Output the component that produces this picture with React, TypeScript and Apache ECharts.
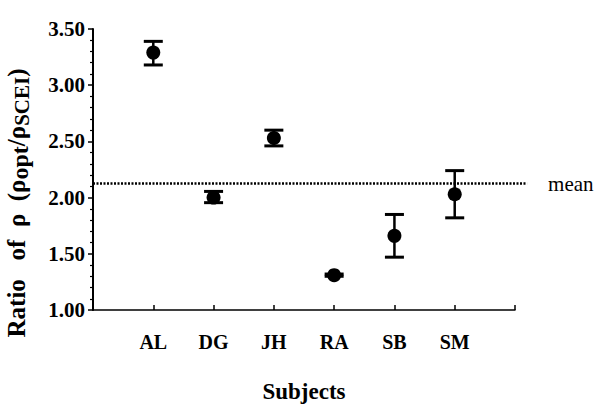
import React, { useEffect, useRef } from "react";
import * as echarts from "echarts";

const subjects = ["AL", "DG", "JH", "RA", "SB", "SM"];
const ratioMean = [3.29, 2.0, 2.53, 1.31, 1.66, 2.03];
const ratioLow = [3.18, 1.955, 2.46, 1.3, 1.47, 1.82];
const ratioHigh = [3.39, 2.055, 2.6, 1.32, 1.85, 2.24];
const overallMean = 2.125;
const yTicks = [1.0, 1.5, 2.0, 2.5, 3.0, 3.5];

const FONT = "'Liberation Serif', 'Times New Roman', serif";

export default function App() {
  const ref = useRef<HTMLDivElement>(null);
  useEffect(() => {
    if (!ref.current) return;
    const chart = echarts.init(ref.current, undefined, { renderer: "svg" });
    const rows = subjects.map((s, i) => [i + 1, ratioMean[i], ratioLow[i], ratioHigh[i]]);
    chart.setOption({
      animation: false,
      backgroundColor: "#ffffff",
      grid: { left: 93, right: 85, top: 29, bottom: 98, containLabel: false, outerBoundsMode: "none" },
      xAxis: {
        type: "value",
        min: 0,
        max: subjects.length + 1,
        interval: 1,
        splitLine: { show: false },
        axisLine: { lineStyle: { color: "#000", width: 1.5 } },
        axisTick: { inside: true, length: 5, lineStyle: { color: "#000", width: 1.5 } },
        axisLabel: {
          margin: 22,
          color: "#000",
          fontFamily: FONT,
          fontWeight: "bold",
          fontSize: 20,
          formatter: (v: number) => subjects[v - 1] ?? "",
        },
        name: "Subjects",
        nameLocation: "middle",
        nameGap: 70,
        nameTextStyle: { color: "#000", fontFamily: FONT, fontWeight: "bold", fontSize: 23 },
      },
      yAxis: {
        type: "value",
        min: yTicks[0],
        max: yTicks[yTicks.length - 1],
        interval: 0.5,
        splitLine: { show: false },
        axisLine: { show: true, lineStyle: { color: "#000", width: 2 } },
        axisTick: { show: true, length: 5, lineStyle: { color: "#000", width: 1.5 } },
        minorTick: { show: true, splitNumber: 5, length: 3, lineStyle: { color: "#000", width: 1.2 } },
        axisLabel: {
          margin: 8,
          color: "#000",
          fontFamily: FONT,
          fontWeight: "bold",
          fontSize: 21,
          formatter: (v: number) => v.toFixed(2),
        },
      },
      series: [
        {
          type: "custom",
          data: rows,
          z: 2,
          renderItem: (_p: any, api: any) => {
            const x = api.value(0);
            const lo = api.coord([x, api.value(2)]);
            const hi = api.coord([x, api.value(3)]);
            const hw = 9.5;
            const st = { stroke: "#000", lineWidth: 2.5 };
            return {
              type: "group",
              children: [
                { type: "line", shape: { x1: lo[0], y1: lo[1], x2: hi[0], y2: hi[1] }, style: st },
                { type: "line", shape: { x1: lo[0] - hw, y1: lo[1], x2: lo[0] + hw, y2: lo[1] }, style: { stroke: "#000", lineWidth: 3 } },
                { type: "line", shape: { x1: hi[0] - hw, y1: hi[1], x2: hi[0] + hw, y2: hi[1] }, style: { stroke: "#000", lineWidth: 3 } },
              ],
            };
          },
        },
        {
          type: "scatter",
          data: rows.map((r) => [r[0], r[1]]),
          symbol: "circle",
          symbolSize: 14,
          itemStyle: { color: "#000", opacity: 1 },
          z: 3,
        },
      ],
    });
    const p0 = chart.convertToPixel({ gridIndex: 0 }, [0, overallMean]) as number[];
    const p1 = chart.convertToPixel({ gridIndex: 0 }, [subjects.length + 1.2, overallMean]) as number[];
    chart.setOption({
      graphic: [
        {
          type: "line",
          shape: { x1: p0[0], y1: p0[1], x2: p1[0], y2: p1[1] },
          style: { stroke: "#000", lineWidth: 2.5, lineDash: [2, 1.5] },
          z: 1,
        },
        {
          type: "text",
          x: p1[0] + 21,
          y: p0[1],
          style: { text: "mean", fill: "#000", font: `21px ${FONT}`, verticalAlign: "middle", align: "left" },
        },
        {
          type: "text",
          x: 16,
          y: 203,
          rotation: Math.PI / 2,
          style: {
            text: "Ratio   of  ρ  (ρ{sub|opt}/ρ{sub2|SCEI})",
            fill: "#000",
            font: `bold 25px ${FONT}`,
            align: "center",
            verticalAlign: "middle",
            rich: {
              sub: { fontFamily: FONT, fontWeight: "bold", fontSize: 24, fill: "#000", padding: [8, 0, 0, 0], verticalAlign: "bottom" },
              sub2: { fontFamily: FONT, fontWeight: "bold", fontSize: 21, fill: "#000", padding: [10, 0, 0, 0], verticalAlign: "bottom" },
            },
          },
        },
      ],
    });
    return () => chart.dispose();
  }, []);
  return (
    <div
      ref={ref}
      style={{ position: "fixed", left: 0, top: 0, width: 600, height: 408, background: "#fff" }}
    />
  );
}
